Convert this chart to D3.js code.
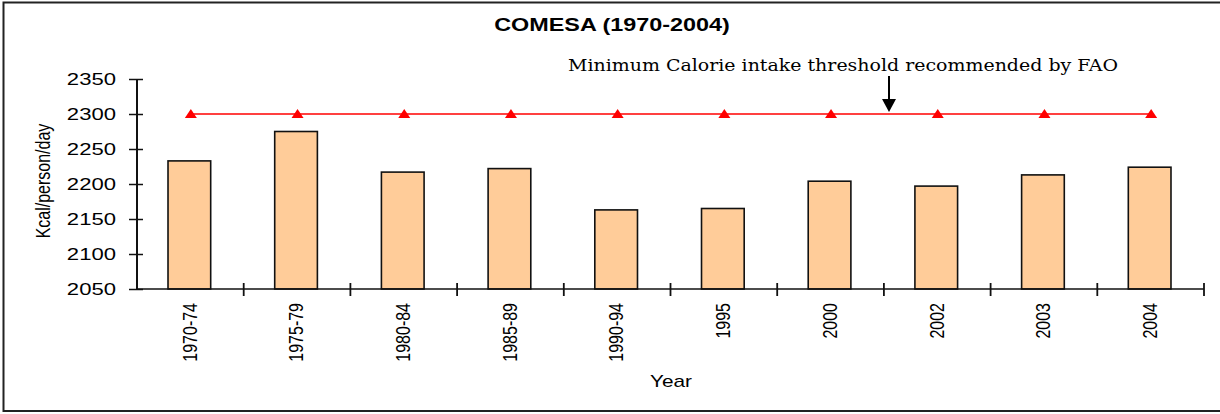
<!DOCTYPE html>
<html>
<head>
<meta charset="utf-8">
<script src="https://cdn.jsdelivr.net/npm/d3@7"></script>
<style>
  body { margin: 0; background: #fff; }
  svg { display: block; }
  text { font-family: Arial, "Liberation Sans", sans-serif; fill: #000; }
</style>
</head>
<body>
<div id="chart"></div>
<script>
// data
var years = ["1970-74", "1975-79", "1980-84", "1985-89", "1990-94", "1995", "2000", "2002", "2003", "2004"];
var kcal = [2233, 2275, 2217, 2222, 2163, 2165, 2204, 2197, 2213, 2224];
var threshold = [2300, 2300, 2300, 2300, 2300, 2300, 2300, 2300, 2300, 2300];
var yTicks = [2050, 2100, 2150, 2200, 2250, 2300, 2350];

var w = 1220;
var h = 414;
var sx = 1.3; // the original picture is stretched sideways, so is the text

var svg = d3.select("#chart").append("svg")
	.attr("width", w)
	.attr("height", h);

// frame
svg.append("path")
	.attr("d", "M1224,2.5 H3.5 V411 H1224")
	.attr("fill", "none")
	.attr("stroke", "#222")
	.attr("stroke-width", 2);

var plotL = 137, plotR = 1204, plotT = 79, plotB = 289;

var x = d3.scaleBand()
	.domain(years)
	.range([plotL, plotR])
	.paddingInner(0.6)
	.paddingOuter(0.3);
// bands sit evenly, padding only sets the bar width
var step = (plotR - plotL) / years.length;
function cx(d) { return plotL + step * (years.indexOf(d) + 0.5); }

var y = d3.scaleLinear()
	.domain([2050, 2350])
	.range([plotB, plotT]);

// bars
svg.selectAll("rect.bar")
	.data(kcal)
	.enter()
	.append("rect")
	.attr("class", "bar")
	.attr("x", function(d, i) { return cx(years[i]) - x.bandwidth() / 2 - 1; })
	.attr("y", function(d) { return y(d); })
	.attr("width", x.bandwidth())
	.attr("height", function(d) { return y(2050) - y(d); })
	.attr("fill", "#ffcc99")
	.attr("stroke", "#111")
	.attr("stroke-width", 1.6);

// y axis
var yAxis = svg.append("g")
	.attr("transform", "translate(" + plotL + ",0)")
	.call(d3.axisLeft(y).tickValues(yTicks).tickFormat(d3.format("d")).tickSizeOuter(0).tickSize(0));
yAxis.select(".domain")
	.attr("stroke", "#111")
	.attr("stroke-width", 2)
	.attr("d", "M0," + plotT + "V" + plotB);
yAxis.selectAll(".tick line")
	.attr("x1", -8)
	.attr("x2", 6)
	.attr("stroke", "#111")
	.attr("stroke-width", 1.5);
yAxis.selectAll(".tick text")
	.attr("x", 0)
	.attr("transform", "translate(-21,0) scale(" + sx + ",1)")
	.style("font-size", "17px")
	.style("font-family", "Arial, 'Liberation Sans', sans-serif")
	.attr("fill", "#222");

// x axis, ticks on the band edges
var xAxis = svg.append("g");
xAxis.append("line")
	.attr("x1", plotL).attr("x2", plotR)
	.attr("y1", plotB).attr("y2", plotB)
	.attr("stroke", "#111")
	.attr("stroke-width", 1.5);
var edges = years.map(function(d) { return cx(d) + step / 2; });
xAxis.selectAll("line.tk")
	.data(edges)
	.enter()
	.append("line")
	.attr("class", "tk")
	.attr("x1", function(d) { return d; })
	.attr("x2", function(d) { return d; })
	.attr("y1", plotB - 6)
	.attr("y2", plotB + 7)
	.attr("stroke", "#111")
	.attr("stroke-width", 1.8);
xAxis.selectAll("text")
	.data(years)
	.enter()
	.append("text")
	.attr("transform", function(d) {
		return "translate(" + (cx(d) - 1) + "," + (plotB + 14) + ") scale(" + sx + ",1) rotate(-90)";
	})
	.attr("text-anchor", "end")
	.attr("dy", "0.35em")
	.style("font-size", "16px")
	.attr("fill", "#111")
	.text(function(d) { return d; });

// threshold line with triangles
var line = d3.line()
	.x(function(d, i) { return cx(years[i]); })
	.y(function(d) { return y(d); });
svg.append("path")
	.datum(threshold)
	.attr("d", line)
	.attr("fill", "none")
	.attr("stroke", "#ff0000")
	.attr("stroke-width", 1.5);
svg.selectAll("path.tri")
	.data(threshold)
	.enter()
	.append("path")
	.attr("class", "tri")
	.attr("transform", function(d, i) {
		return "translate(" + (cx(years[i]) + 0.5) + "," + y(d) + ")";
	})
	.attr("d", "M-6,4 L0,-5 L6,4 Z")
	.attr("fill", "#ff0000");

// titles
svg.append("text")
	.attr("transform", "translate(612,31) scale(" + sx + ",1)")
	.attr("text-anchor", "middle")
	.style("font-size", "18px")
	.style("font-weight", "bold")
	.attr("fill", "#111")
	.text("COMESA (1970-2004)");

svg.append("text")
	.attr("transform", "translate(43,181) scale(" + sx + ",1) rotate(-90)")
	.attr("text-anchor", "middle")
	.attr("dy", "0.35em")
	.style("font-size", "16px")
	.attr("fill", "#111")
	.text("Kcal/person/day");

svg.append("text")
	.attr("transform", "translate(671,387) scale(" + sx + ",1)")
	.attr("text-anchor", "middle")
	.style("font-size", "16px")
	.attr("fill", "#111")
	.text("Year");

// annotation
svg.append("text")
	.attr("x", 568)
	.attr("y", 71)
	.attr("textLength", 550)
	.attr("lengthAdjust", "spacingAndGlyphs")
	.style("font-family", "'DejaVu Serif', serif")
	.style("font-size", "16px")
	.attr("fill", "#111")
	.text("Minimum Calorie intake threshold recommended by FAO");

svg.append("line")
	.attr("x1", 889).attr("x2", 889)
	.attr("y1", 76).attr("y2", 101)
	.attr("stroke", "#000")
	.attr("stroke-width", 2);
svg.append("path")
	.attr("d", "M882,99 L896,99 L889,112 Z")
	.attr("fill", "#000");
</script>
</body>
</html>
